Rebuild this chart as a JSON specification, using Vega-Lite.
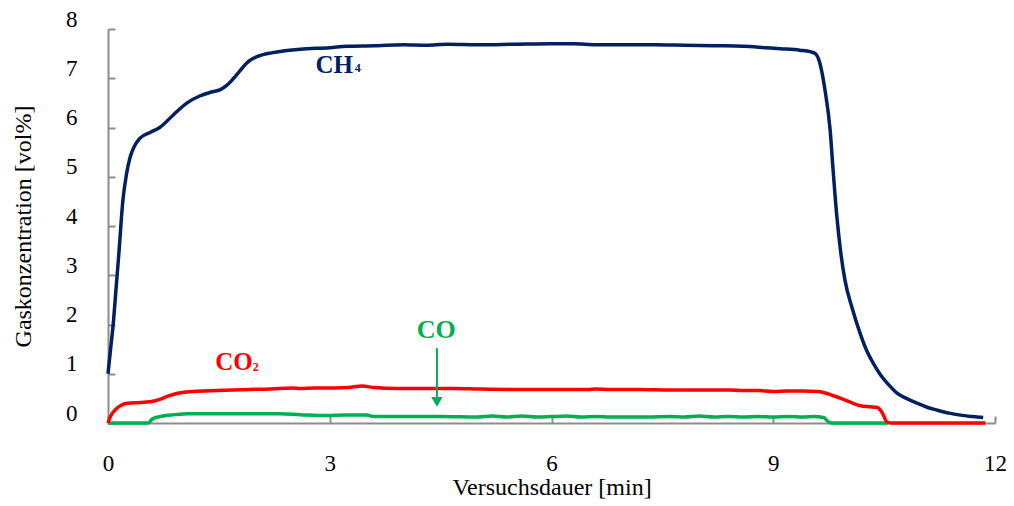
{
  "$schema": "https://vega.github.io/schema/vega-lite/v6.json",
  "width": 887,
  "height": 394,
  "autosize": {"type": "none"},
  "padding": {"left": 108, "top": 29, "right": 19, "bottom": 83},
  "background": "white",
  "config": {
    "view": {"stroke": null},
    "font": "Liberation Serif",
    "axis": {
      "grid": false,
      "domainColor": "#8c8c8c",
      "domainWidth": 2,
      "tickColor": "#8c8c8c",
      "tickWidth": 2,
      "tickSize": -7,
      "labelFont": "Liberation Serif",
      "labelFontSize": 23,
      "labelColor": "#000000",
      "titleFont": "Liberation Serif",
      "titleFontSize": 24,
      "titleFontWeight": "normal",
      "titleColor": "#000000"
    }
  },
  "datasets": {
    "series": [
      {"t": 0, "v": 1.0, "gas": "CH4"},
      {"t": 0.035, "v": 1.5, "gas": "CH4"},
      {"t": 0.07, "v": 2.0, "gas": "CH4"},
      {"t": 0.11, "v": 2.75, "gas": "CH4"},
      {"t": 0.15, "v": 3.5, "gas": "CH4"},
      {"t": 0.2, "v": 4.5, "gas": "CH4"},
      {"t": 0.25, "v": 5.05, "gas": "CH4"},
      {"t": 0.3, "v": 5.4, "gas": "CH4"},
      {"t": 0.35, "v": 5.6, "gas": "CH4"},
      {"t": 0.43, "v": 5.78, "gas": "CH4"},
      {"t": 0.57, "v": 5.9, "gas": "CH4"},
      {"t": 0.7, "v": 6.0, "gas": "CH4"},
      {"t": 0.88, "v": 6.25, "gas": "CH4"},
      {"t": 1.07, "v": 6.5, "gas": "CH4"},
      {"t": 1.24, "v": 6.64, "gas": "CH4"},
      {"t": 1.4, "v": 6.72, "gas": "CH4"},
      {"t": 1.52, "v": 6.77, "gas": "CH4"},
      {"t": 1.61, "v": 6.86, "gas": "CH4"},
      {"t": 1.7, "v": 7.0, "gas": "CH4"},
      {"t": 1.79, "v": 7.16, "gas": "CH4"},
      {"t": 1.87, "v": 7.3, "gas": "CH4"},
      {"t": 1.96, "v": 7.4, "gas": "CH4"},
      {"t": 2.1, "v": 7.48, "gas": "CH4"},
      {"t": 2.23, "v": 7.52, "gas": "CH4"},
      {"t": 2.6, "v": 7.59, "gas": "CH4"},
      {"t": 3.0, "v": 7.62, "gas": "CH4"},
      {"t": 3.23, "v": 7.65, "gas": "CH4"},
      {"t": 3.6, "v": 7.66, "gas": "CH4"},
      {"t": 4.0, "v": 7.68, "gas": "CH4"},
      {"t": 4.3, "v": 7.67, "gas": "CH4"},
      {"t": 4.6, "v": 7.69, "gas": "CH4"},
      {"t": 5.0, "v": 7.68, "gas": "CH4"},
      {"t": 5.5, "v": 7.69, "gas": "CH4"},
      {"t": 6.0, "v": 7.7, "gas": "CH4"},
      {"t": 6.3, "v": 7.7, "gas": "CH4"},
      {"t": 6.6, "v": 7.68, "gas": "CH4"},
      {"t": 7.0, "v": 7.68, "gas": "CH4"},
      {"t": 7.4, "v": 7.68, "gas": "CH4"},
      {"t": 7.8, "v": 7.67, "gas": "CH4"},
      {"t": 8.2, "v": 7.66, "gas": "CH4"},
      {"t": 8.6, "v": 7.65, "gas": "CH4"},
      {"t": 8.9, "v": 7.62, "gas": "CH4"},
      {"t": 9.1, "v": 7.6, "gas": "CH4"},
      {"t": 9.36, "v": 7.57, "gas": "CH4"},
      {"t": 9.5, "v": 7.54, "gas": "CH4"},
      {"t": 9.57, "v": 7.5, "gas": "CH4"},
      {"t": 9.63, "v": 7.31, "gas": "CH4"},
      {"t": 9.7, "v": 6.76, "gas": "CH4"},
      {"t": 9.77, "v": 5.94, "gas": "CH4"},
      {"t": 9.81, "v": 5.13, "gas": "CH4"},
      {"t": 9.86, "v": 4.2, "gas": "CH4"},
      {"t": 9.91, "v": 3.5, "gas": "CH4"},
      {"t": 9.97, "v": 2.9, "gas": "CH4"},
      {"t": 10.07, "v": 2.32, "gas": "CH4"},
      {"t": 10.18, "v": 1.8, "gas": "CH4"},
      {"t": 10.27, "v": 1.45, "gas": "CH4"},
      {"t": 10.35, "v": 1.22, "gas": "CH4"},
      {"t": 10.45, "v": 0.98, "gas": "CH4"},
      {"t": 10.56, "v": 0.78, "gas": "CH4"},
      {"t": 10.68, "v": 0.6, "gas": "CH4"},
      {"t": 10.8, "v": 0.5, "gas": "CH4"},
      {"t": 10.95, "v": 0.4, "gas": "CH4"},
      {"t": 11.08, "v": 0.32, "gas": "CH4"},
      {"t": 11.22, "v": 0.26, "gas": "CH4"},
      {"t": 11.38, "v": 0.2, "gas": "CH4"},
      {"t": 11.53, "v": 0.16, "gas": "CH4"},
      {"t": 11.7, "v": 0.13, "gas": "CH4"},
      {"t": 11.84, "v": 0.11, "gas": "CH4"},

      {"t": 0, "v": 0, "gas": "CO"},
      {"t": 0.54, "v": 0, "gas": "CO"},
      {"t": 0.6, "v": 0.08, "gas": "CO"},
      {"t": 0.7, "v": 0.13, "gas": "CO"},
      {"t": 0.9, "v": 0.17, "gas": "CO"},
      {"t": 1.07, "v": 0.19, "gas": "CO"},
      {"t": 1.5, "v": 0.19, "gas": "CO"},
      {"t": 2.0, "v": 0.19, "gas": "CO"},
      {"t": 2.33, "v": 0.19, "gas": "CO"},
      {"t": 2.6, "v": 0.17, "gas": "CO"},
      {"t": 2.96, "v": 0.15, "gas": "CO"},
      {"t": 3.2, "v": 0.16, "gas": "CO"},
      {"t": 3.5, "v": 0.16, "gas": "CO"},
      {"t": 3.6, "v": 0.13, "gas": "CO"},
      {"t": 4.0, "v": 0.13, "gas": "CO"},
      {"t": 4.5, "v": 0.13, "gas": "CO"},
      {"t": 5.0, "v": 0.12, "gas": "CO"},
      {"t": 5.2, "v": 0.14, "gas": "CO"},
      {"t": 5.4, "v": 0.12, "gas": "CO"},
      {"t": 5.6, "v": 0.14, "gas": "CO"},
      {"t": 5.8, "v": 0.12, "gas": "CO"},
      {"t": 6.0, "v": 0.13, "gas": "CO"},
      {"t": 6.2, "v": 0.14, "gas": "CO"},
      {"t": 6.4, "v": 0.12, "gas": "CO"},
      {"t": 6.6, "v": 0.13, "gas": "CO"},
      {"t": 6.8, "v": 0.12, "gas": "CO"},
      {"t": 7.0, "v": 0.12, "gas": "CO"},
      {"t": 7.3, "v": 0.12, "gas": "CO"},
      {"t": 7.6, "v": 0.13, "gas": "CO"},
      {"t": 7.8, "v": 0.12, "gas": "CO"},
      {"t": 8.0, "v": 0.14, "gas": "CO"},
      {"t": 8.2, "v": 0.12, "gas": "CO"},
      {"t": 8.4, "v": 0.13, "gas": "CO"},
      {"t": 8.6, "v": 0.12, "gas": "CO"},
      {"t": 8.8, "v": 0.13, "gas": "CO"},
      {"t": 9.0, "v": 0.12, "gas": "CO"},
      {"t": 9.2, "v": 0.13, "gas": "CO"},
      {"t": 9.4, "v": 0.12, "gas": "CO"},
      {"t": 9.55, "v": 0.13, "gas": "CO"},
      {"t": 9.68, "v": 0.11, "gas": "CO"},
      {"t": 9.75, "v": 0.02, "gas": "CO"},
      {"t": 9.8, "v": 0, "gas": "CO"},
      {"t": 10.55, "v": 0, "gas": "CO"},

      {"t": 0, "v": 0, "gas": "CO2"},
      {"t": 0.03, "v": 0.12, "gas": "CO2"},
      {"t": 0.07, "v": 0.22, "gas": "CO2"},
      {"t": 0.12, "v": 0.3, "gas": "CO2"},
      {"t": 0.18, "v": 0.36, "gas": "CO2"},
      {"t": 0.23, "v": 0.39, "gas": "CO2"},
      {"t": 0.35, "v": 0.41, "gas": "CO2"},
      {"t": 0.57, "v": 0.43, "gas": "CO2"},
      {"t": 0.7, "v": 0.48, "gas": "CO2"},
      {"t": 0.8, "v": 0.54, "gas": "CO2"},
      {"t": 0.93, "v": 0.6, "gas": "CO2"},
      {"t": 1.15, "v": 0.64, "gas": "CO2"},
      {"t": 1.47, "v": 0.66, "gas": "CO2"},
      {"t": 1.92, "v": 0.68, "gas": "CO2"},
      {"t": 2.2, "v": 0.69, "gas": "CO2"},
      {"t": 2.5, "v": 0.71, "gas": "CO2"},
      {"t": 2.6, "v": 0.7, "gas": "CO2"},
      {"t": 2.8, "v": 0.71, "gas": "CO2"},
      {"t": 3.05, "v": 0.71, "gas": "CO2"},
      {"t": 3.25, "v": 0.72, "gas": "CO2"},
      {"t": 3.44, "v": 0.75, "gas": "CO2"},
      {"t": 3.6, "v": 0.72, "gas": "CO2"},
      {"t": 3.9, "v": 0.7, "gas": "CO2"},
      {"t": 4.3, "v": 0.7, "gas": "CO2"},
      {"t": 4.7, "v": 0.7, "gas": "CO2"},
      {"t": 5.0, "v": 0.69, "gas": "CO2"},
      {"t": 5.5, "v": 0.68, "gas": "CO2"},
      {"t": 6.0, "v": 0.68, "gas": "CO2"},
      {"t": 6.5, "v": 0.68, "gas": "CO2"},
      {"t": 6.6, "v": 0.69, "gas": "CO2"},
      {"t": 6.8, "v": 0.68, "gas": "CO2"},
      {"t": 7.2, "v": 0.68, "gas": "CO2"},
      {"t": 7.6, "v": 0.67, "gas": "CO2"},
      {"t": 8.0, "v": 0.67, "gas": "CO2"},
      {"t": 8.4, "v": 0.67, "gas": "CO2"},
      {"t": 8.6, "v": 0.66, "gas": "CO2"},
      {"t": 8.8, "v": 0.66, "gas": "CO2"},
      {"t": 9.0, "v": 0.64, "gas": "CO2"},
      {"t": 9.2, "v": 0.65, "gas": "CO2"},
      {"t": 9.4, "v": 0.65, "gas": "CO2"},
      {"t": 9.6, "v": 0.64, "gas": "CO2"},
      {"t": 9.68, "v": 0.62, "gas": "CO2"},
      {"t": 9.8, "v": 0.56, "gas": "CO2"},
      {"t": 9.95, "v": 0.48, "gas": "CO2"},
      {"t": 10.08, "v": 0.4, "gas": "CO2"},
      {"t": 10.18, "v": 0.35, "gas": "CO2"},
      {"t": 10.3, "v": 0.33, "gas": "CO2"},
      {"t": 10.4, "v": 0.32, "gas": "CO2"},
      {"t": 10.47, "v": 0.22, "gas": "CO2"},
      {"t": 10.54, "v": 0.02, "gas": "CO2"},
      {"t": 10.6, "v": 0, "gas": "CO2"},
      {"t": 11.87, "v": 0, "gas": "CO2"}
    ]
  },
  "layer": [
    {
      "data": {"name": "series"},
      "transform": [{"filter": "datum.gas === 'CO'"}],
      "mark": {"type": "line", "color": "#00b050", "strokeWidth": 3.5, "interpolate": "monotone"},
      "encoding": {
        "x": {"field": "t", "type": "quantitative", "scale": {"domain": [0, 12], "nice": false},
              "axis": {"values": [0, 3, 6, 9, 12], "format": "d", "labelFlush": false, "labelFont": "Liberation Serif", "title": "Versuchsdauer [min]", "labelPadding": 36, "titlePadding": 0}},
        "y": {"field": "v", "type": "quantitative", "scale": {"domain": [0, 8], "nice": false},
              "axis": {"values": [0, 1, 2, 3, 4, 5, 6, 7, 8], "format": "d", "labelFlush": false, "labelFont": "Liberation Serif", "title": "Gaskonzentration [vol%]", "labelOffset": -10, "labelPadding": 38, "titlePadding": 30}}
      }
    },
    {
      "data": {"name": "series"},
      "transform": [{"filter": "datum.gas === 'CO2'"}],
      "mark": {"type": "line", "color": "#ff0000", "strokeWidth": 3.5, "interpolate": "monotone"},
      "encoding": {
        "x": {"field": "t", "type": "quantitative"},
        "y": {"field": "v", "type": "quantitative"}
      }
    },
    {
      "data": {"name": "series"},
      "transform": [{"filter": "datum.gas === 'CH4'"}],
      "mark": {"type": "line", "color": "#002060", "strokeWidth": 3.5, "interpolate": "monotone"},
      "encoding": {
        "x": {"field": "t", "type": "quantitative"},
        "y": {"field": "v", "type": "quantitative"}
      }
    },
    {
      "data": {"values": [{"t": 3.06, "v": 7.27, "label": "CH"}]},
      "mark": {"type": "text", "color": "#002060", "fontSize": 25, "fontWeight": "bold", "font": "Liberation Serif", "baseline": "middle", "align": "center"},
      "encoding": {"x": {"field": "t", "type": "quantitative"}, "y": {"field": "v", "type": "quantitative"}, "text": {"field": "label"}}
    },
    {
      "data": {"values": [{"t": 3.38, "v": 7.2, "label": "4"}]},
      "mark": {"type": "text", "color": "#002060", "fontSize": 12, "fontWeight": "bold", "font": "Liberation Serif", "baseline": "middle", "align": "center"},
      "encoding": {"x": {"field": "t", "type": "quantitative"}, "y": {"field": "v", "type": "quantitative"}, "text": {"field": "label"}}
    },
    {
      "data": {"values": [{"t": 1.705, "v": 1.24, "label": "CO"}]},
      "mark": {"type": "text", "color": "#ff0000", "fontSize": 25, "fontWeight": "bold", "font": "Liberation Serif", "baseline": "middle", "align": "center"},
      "encoding": {"x": {"field": "t", "type": "quantitative"}, "y": {"field": "v", "type": "quantitative"}, "text": {"field": "label"}}
    },
    {
      "data": {"values": [{"t": 2.0, "v": 1.14, "label": "2"}]},
      "mark": {"type": "text", "color": "#ff0000", "fontSize": 12, "fontWeight": "bold", "font": "Liberation Serif", "baseline": "middle", "align": "center"},
      "encoding": {"x": {"field": "t", "type": "quantitative"}, "y": {"field": "v", "type": "quantitative"}, "text": {"field": "label"}}
    },
    {
      "data": {"values": [{"t": 4.44, "v": 1.88, "label": "CO"}]},
      "mark": {"type": "text", "color": "#00b050", "fontSize": 26, "fontWeight": "bold", "font": "Liberation Serif", "baseline": "middle", "align": "center"},
      "encoding": {"x": {"field": "t", "type": "quantitative"}, "y": {"field": "v", "type": "quantitative"}, "text": {"field": "label"}}
    },
    {
      "data": {"values": [{"t": 4.45, "v": 1.52, "v2": 0.5}]},
      "mark": {"type": "rule", "color": "#00b050", "strokeWidth": 2},
      "encoding": {"x": {"field": "t", "type": "quantitative"}, "y": {"field": "v", "type": "quantitative"}, "y2": {"field": "v2"}}
    },
    {
      "data": {"values": [{"t": 4.45, "v": 0.43}]},
      "mark": {"type": "point", "shape": "triangle-down", "filled": true, "color": "#00b050", "size": 130, "opacity": 1},
      "encoding": {"x": {"field": "t", "type": "quantitative"}, "y": {"field": "v", "type": "quantitative"}}
    }
  ]
}
